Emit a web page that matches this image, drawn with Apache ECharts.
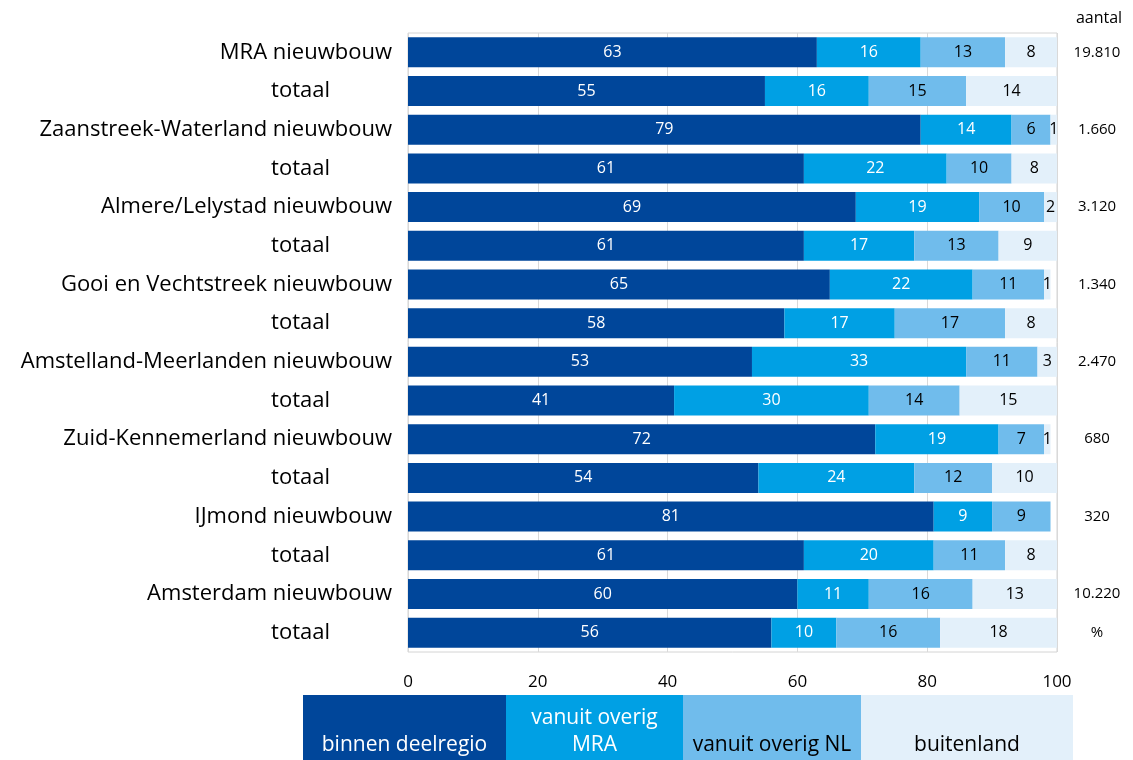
<!DOCTYPE html>
<html>
<head>
<meta charset="utf-8">
<script src="https://cdn.jsdelivr.net/npm/echarts@6/dist/echarts.min.js"></script>
<style>
  html, body { margin: 0; padding: 0; background: #fff; }
  #chart { width: 1133px; height: 760px; }
</style>
</head>
<body>
<div id="chart"></div>
<script>
// Herkomst van bewoners, per deelregio (procenten)
const categories = [
  'MRA nieuwbouw', 'totaal',
  'Zaanstreek-Waterland nieuwbouw', 'totaal',
  'Almere/Lelystad nieuwbouw', 'totaal',
  'Gooi en Vechtstreek nieuwbouw', 'totaal',
  'Amstelland-Meerlanden nieuwbouw', 'totaal',
  'Zuid-Kennemerland nieuwbouw', 'totaal',
  'IJmond nieuwbouw', 'totaal',
  'Amsterdam nieuwbouw', 'totaal'
];
const binnenDeelregio = [63, 55, 79, 61, 69, 61, 65, 58, 53, 41, 72, 54, 81, 61, 60, 56];
const overigMRA       = [16, 16, 14, 22, 19, 17, 22, 17, 33, 30, 19, 24,  9, 20, 11, 10];
const overigNL        = [13, 15,  6, 10, 10, 13, 11, 17, 11, 14,  7, 12,  9, 11, 16, 16];
const buitenland      = [ 8, 14,  1,  8,  2,  9,  1,  8,  3, 15,  1, 10,  0,  8, 13, 18];
const aantal = ['19.810', '', '1.660', '', '3.120', '', '1.340', '', '2.470', '', '680', '', '320', '', '10.220', '%'];
const xTicks = [0, 20, 40, 60, 80, 100];

const seriesNames = ['binnen deelregio', 'vanuit overig\nMRA', 'vanuit overig NL', 'buitenland'];
const seriesData = [binnenDeelregio, overigMRA, overigNL, buitenland];
const colors = ['#00469a', '#00a0e4', '#70bcec', '#e3f0fa'];
const labelColors = ['#ffffff', '#ffffff', '#000000', '#000000'];

const FONT = '"Open Sans", "Noto Sans", sans-serif';

const chart = echarts.init(document.getElementById('chart'), null, { renderer: 'canvas' });

const series = seriesData.map((d, i) => ({
  name: seriesNames[i],
  type: 'bar',
  stack: 'herkomst',
  data: d,
  barWidth: 30,
  itemStyle: { color: colors[i] },
  label: {
    show: true,
    position: 'inside',
    color: labelColors[i],
    fontFamily: FONT,
    fontSize: 16,
    formatter: p => (p.value ? String(p.value) : '')
  },
  emphasis: { disabled: true },
  silent: true
}));

// Legenda als rij gekleurde vakken onder de grafiek
const legendBoxes = [
  { x: 303, w: 203 },
  { x: 506, w: 177 },
  { x: 683, w: 178 },
  { x: 861, w: 212 }
];
const graphic = [];
legendBoxes.forEach((b, i) => {
  graphic.push({
    type: 'rect',
    shape: { x: b.x, y: 695, width: b.w, height: 70 },
    style: { fill: colors[i] },
    silent: true
  });
  graphic.push({
    type: 'text',
    x: b.x + b.w / 2,
    y: 759,
    style: {
      text: seriesNames[i],
      fill: labelColors[i],
      font: '21px ' + FONT,
      align: 'center',
      verticalAlign: 'bottom',
      lineHeight: 27
    },
    silent: true
  });
});
graphic.push({
  type: 'text',
  x: 1099,
  y: 18,
  style: { text: 'aantal', fill: '#000', font: '16px ' + FONT, align: 'center', verticalAlign: 'middle' },
  silent: true
});

chart.setOption({
  animation: false,
  backgroundColor: '#ffffff',
  grid: {
    left: 408, right: 76, top: 33, bottom: 108,
    show: true, borderColor: '#d4d4d4', borderWidth: 1,
    outerBoundsMode: 'none'
  },
  xAxis: {
    type: 'value',
    min: 0, max: 100, interval: 20,
    axisLine: { show: false },
    axisTick: { show: false },
    splitLine: { show: true, lineStyle: { color: '#d9d9d9', width: 1 } },
    axisLabel: {
      margin: 22,
      fontFamily: FONT,
      fontSize: 17,
      color: '#000',
      formatter: v => (xTicks.includes(v) ? String(v) : '')
    }
  },
  yAxis: [
    {
      type: 'category',
      data: categories,
      inverse: true,
      axisLine: { show: false },
      axisTick: { show: false },
      splitLine: { show: false },
      axisLabel: {
        margin: 16,
        fontFamily: FONT,
        fontSize: 22,
        color: '#000',
        formatter: v => (v === 'totaal' ? '{t|' + v + '}' : v),
        rich: {
          t: { fontFamily: FONT, fontSize: 22, color: '#000', padding: [0, 62, 0, 0] }
        }
      }
    },
    {
      type: 'category',
      data: aantal,
      inverse: true,
      position: 'right',
      axisLine: { show: false },
      axisTick: { show: false },
      splitLine: { show: false },
      axisLabel: {
        margin: 40,
        align: 'center',
        fontFamily: FONT,
        fontSize: 15,
        color: '#000'
      }
    }
  ],
  series: series,
  graphic: graphic
});
</script>
</body>
</html>
